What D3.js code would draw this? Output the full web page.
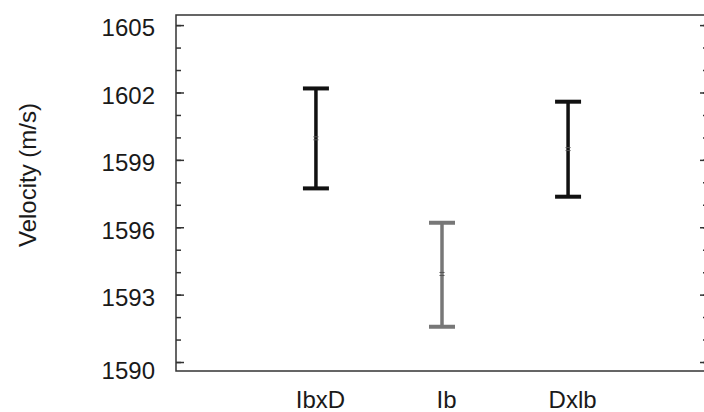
<!DOCTYPE html>
<html>
<head>
<meta charset="utf-8">
<script src="https://cdn.jsdelivr.net/npm/d3@7"></script>
<style>
  body { margin: 0; background: #fff; }
  svg { display: block; font-family: "Liberation Sans", Arial, sans-serif; }
</style>
</head>
<body>
<svg id="chart"></svg>
<script>
// data
const groups = ["IbxD", "Ib", "Dxlb"];
const means = [1599.96, 1593.92, 1599.48];
const lows = [1597.73, 1591.57, 1597.36];
const highs = [1602.18, 1596.2, 1601.59];
const barColors = ["#111111", "#777777", "#111111"];
const majorTicks = [1590, 1593, 1596, 1599, 1602, 1605];
const minorTicks = d3.range(1590, 1606);

const W = 704, H = 412;
const plotL = 176, plotR = 708, plotT = 15, plotB = 371;

const svg = d3.select("#chart").attr("width", W).attr("height", H);

const x = d3.scalePoint()
  .domain(groups)
  .range([plotL, plotR])
  .padding(1.11);

const y = d3.scaleLinear()
  .domain([1589.6, 1605.45])
  .range([plotB, plotT]);

// minor ticks, both sides, pointing inward
svg.append("g")
  .attr("transform", `translate(${plotL},0)`)
  .call(d3.axisRight(y).tickValues(minorTicks).tickSize(5).tickFormat(""))
  .call(g => g.select(".domain").remove())
  .call(g => g.selectAll("line").attr("stroke", "#333").attr("stroke-width", 1.5));

svg.append("g")
  .attr("transform", `translate(${plotR},0)`)
  .call(d3.axisLeft(y).tickValues(minorTicks).tickSize(5).tickFormat(""))
  .call(g => g.select(".domain").remove())
  .call(g => g.selectAll("line").attr("stroke", "#333").attr("stroke-width", 1.5));

// major ticks with labels
const yAxis = svg.append("g")
  .attr("transform", `translate(${plotL},0)`)
  .call(d3.axisRight(y).tickValues(majorTicks).tickSize(8).tickFormat(d3.format("d")));
yAxis.select(".domain").remove();
yAxis.selectAll("line").attr("stroke", "#333").attr("stroke-width", 1.5);
yAxis.selectAll("text")
  .attr("x", -21)
  .attr("dy", d => d === 1590 ? "0.7em" : "0.45em")
  .attr("text-anchor", "end")
  .attr("fill", "#1a1a1a")
  .style("font-size", "24px");

svg.append("g")
  .attr("transform", `translate(${plotR},0)`)
  .call(d3.axisLeft(y).tickValues(majorTicks).tickSize(8).tickFormat(""))
  .call(g => g.select(".domain").remove())
  .call(g => g.selectAll("line").attr("stroke", "#333").attr("stroke-width", 1.5));

// frame
svg.append("rect")
  .attr("x", plotL)
  .attr("y", plotT)
  .attr("width", plotR - plotL)
  .attr("height", plotB - plotT)
  .attr("fill", "none")
  .attr("stroke", "#333")
  .attr("stroke-width", 1.5);

// category labels
const xAxis = svg.append("g")
  .attr("transform", `translate(0,${plotB})`)
  .call(d3.axisBottom(x).tickSize(0).tickPadding(20));
xAxis.select(".domain").remove();
xAxis.selectAll("text")
  .attr("dx", 4)
  .attr("fill", "#1a1a1a")
  .style("font-size", "24px");

// error bars
const capW = 26;
const bars = svg.append("g")
  .selectAll("g")
  .data(groups.map((g, i) => ({ g, mean: means[i], lo: lows[i], hi: highs[i], c: barColors[i] })))
  .join("g");

bars.append("line")
  .attr("x1", d => x(d.g)).attr("x2", d => x(d.g))
  .attr("y1", d => y(d.hi)).attr("y2", d => y(d.lo))
  .attr("stroke", d => d.c)
  .attr("stroke-width", 3.5);

bars.selectAll(".cap")
  .data(d => [{ v: d.hi, d }, { v: d.lo, d }])
  .join("line")
  .attr("class", "cap")
  .attr("x1", c => x(c.d.g) - capW / 2).attr("x2", c => x(c.d.g) + capW / 2)
  .attr("y1", c => y(c.v)).attr("y2", c => y(c.v))
  .attr("stroke", c => c.d.c)
  .attr("stroke-width", 4);

// small mean marker
bars.selectAll(".mean")
  .data(d => [-1.5, 1.5].map(o => ({ o, d })))
  .join("line")
  .attr("class", "mean")
  .attr("x1", m => x(m.d.g) - 2.5).attr("x2", m => x(m.d.g) + 2.5)
  .attr("y1", m => y(m.d.mean) + m.o).attr("y2", m => y(m.d.mean) + m.o)
  .attr("stroke", "#555")
  .attr("stroke-width", 1);

// y axis title
svg.append("text")
  .attr("transform", "translate(36,175) rotate(-90)")
  .attr("text-anchor", "middle")
  .attr("fill", "#1a1a1a")
  .style("font-size", "24px")
  .text("Velocity (m/s)");
</script>
</body>
</html>
